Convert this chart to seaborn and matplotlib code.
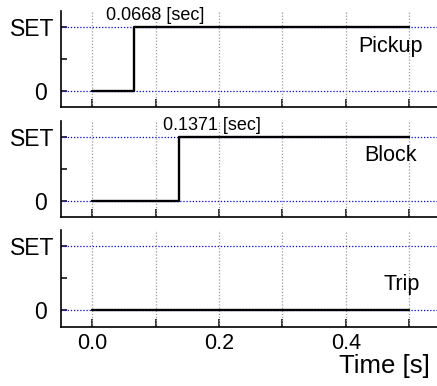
import matplotlib
matplotlib.use('Agg')

import numpy as np
import pandas as pd
import matplotlib.pyplot as plt
import seaborn as sns

# --- data ---
signals = ["Pickup", "Block", "Trip"]
step_times = [0.0668, 0.1371, None]   # None = never switched
t_end = 0.5
set_level = 1.0
xticks = [0.0, 0.1, 0.2, 0.3, 0.4, 0.5]
xtick_labels = ["0.0", "", "0.2", "", "0.4", ""]
ytick_labels = ["0 ", "SET"]

sns.set_theme(style="ticks")
plt.rcParams['font.family'] = ['Liberation Sans', 'DejaVu Sans']
plt.rcParams.update({"text.color": "black", "xtick.color": "black",
                     "ytick.color": "black", "axes.labelcolor": "black"})

fig = plt.figure(figsize=(4.37, 3.86), dpi=100)
W, H = 437, 386

# panel extents in pixels (top, bottom)
panels_px = [(11, 107), (120.5, 216.5), (230, 326.5)]
left_px, right_px = 61, 441
label_pos = [(0.471, 0.61), (0.471, 0.61), (0.488, 0.31)]
ann_offset = [15, 24]

for i, name in enumerate(signals):
    top, bot = panels_px[i]
    ax = fig.add_axes([left_px / W, 1 - bot / H, (right_px - left_px) / W, (bot - top) / H])

    st = step_times[i]
    if st is None:
        df = pd.DataFrame({"t": [0.0, t_end], "v": [0.0, 0.0]})
    else:
        df = pd.DataFrame({"t": [0.0, st, t_end], "v": [0.0, set_level, set_level]})

    # reference levels and grid
    for lvl in [0.0, set_level]:
        ax.axhline(lvl, color="blue", lw=0.9, ls=(0, (1, 1.5)), zorder=1)
    for xt in xticks:
        ax.axvline(xt, color="#9a9a9a", lw=0.9, ls=(0, (1, 1.5)), zorder=1)

    sns.lineplot(data=df, x="t", y="v", drawstyle="steps-post", sort=False,
                 color="black", lw=1.7, ax=ax, zorder=3)

    ax.set_xlim(-0.049, 0.55)
    ax.set_ylim(-0.25, 1.25)
    ax.set_xticks(xticks)
    ax.set_yticks([0.0, set_level])
    ax.set_yticks([0.5], minor=True)
    ax.set_yticklabels(ytick_labels, fontsize=16.5)
    if i == len(signals) - 1:
        ax.set_xticklabels(xtick_labels, fontsize=15.5)
    else:
        ax.set_xticklabels([])
    ax.tick_params(axis="both", which="both", direction="in", length=4, width=1.1,
                   color="black", labelcolor="black", pad=5)
    ax.tick_params(axis="x", length=6)
    ax.set_xlabel("")
    ax.set_ylabel("")
    sns.despine(ax=ax)
    for sp in ["left", "bottom"]:
        ax.spines[sp].set_linewidth(1.2)
        ax.spines[sp].set_color("black")

    ax.text(label_pos[i][0], label_pos[i][1], name, transform=ax.transData,
            ha="center", va="baseline", fontsize=15.5, color="black")

    if st is not None:
        ax.annotate(f"{st:.4f} [sec]", xy=(st, set_level), xytext=(ann_offset[i], 5),
                    textcoords="offset points", ha="center", va="baseline",
                    fontsize=13, color="black", annotation_clip=False)

fig.text(430 / W, 1 - 373 / H, "Time [s]", ha="right", va="baseline",
         fontsize=18.5, color="black")

fig.savefig("out.png", dpi=100)
